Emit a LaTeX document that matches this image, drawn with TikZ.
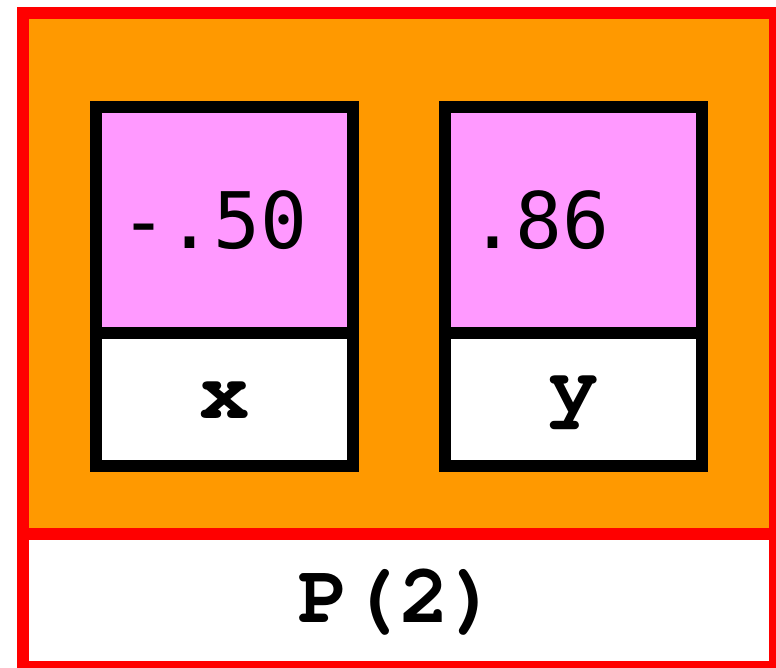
\documentclass[tikz,border=0pt]{standalone}
\usepackage{fontspec}
\usepackage[T1,TU]{fontenc}
\newfontfamily\numfont{DejaVu Sans Mono}
\usetikzlibrary{positioning}
\definecolor{objOrange}{HTML}{FF9900}
\definecolor{valPink}{HTML}{FF99FF}
\definecolor{frameRed}{HTML}{FF0000}
\tikzset{
  mem/text/.style={font=\fontencoding{T1}\fontfamily{pcr}\fontseries{b}\fontsize{84}{88}\selectfont},
  mem/num/.style={font=\numfont\fontsize{78}{82}\selectfont},
  mem/frame/.style={draw=frameRed, line width=12pt, inner sep=0pt, outer sep=0pt, minimum width=752pt, mem/text},
  mem/value/.style={draw=black, line width=12pt, fill=valPink, minimum width=257pt, minimum height=225pt,
    inner xsep=24pt, inner ysep=0pt, outer sep=0pt, text width=209pt, align=left, mem/num},
  mem/name/.style={draw=black, line width=12pt, fill=white, minimum width=257pt, minimum height=133.5pt,
    inner sep=0pt, outer sep=0pt, mem/text}
}

\begin{document}
\begin{tikzpicture}[x=1pt, y=-1pt]
  \useasboundingbox (0,0) rectangle (776,668);

  % the object and its caption
  \node[mem/frame, fill=objOrange, minimum height=520.5pt, anchor=north west] (obj) at (23,13) {};
  \node[mem/frame, fill=white, minimum height=133.5pt, anchor=north] (caption) at (obj.south) {P(2)};

  % fields
  \node[mem/value, anchor=north west] (xval) at (96,107.5) {-.50};
  \node[mem/name, below=0pt of xval] (xname) {x};

  \node[mem/value, right=92pt of xval] (yval) {.86};
  \node[mem/name, below=0pt of yval] (yname) {y};
\end{tikzpicture}
\end{document}
